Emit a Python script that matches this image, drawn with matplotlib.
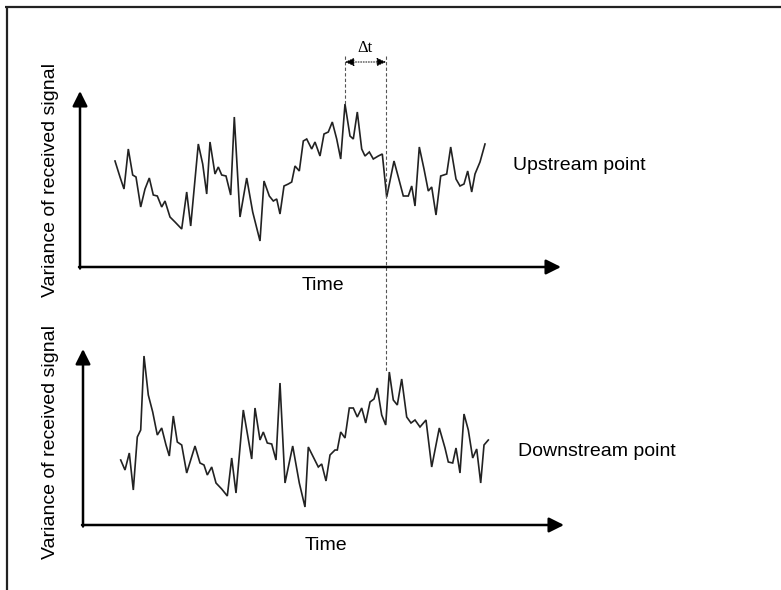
# Upstream / downstream signal variance sketch (transit time delta t)
import matplotlib.pyplot as plt
import numpy as np

# time (px from axis origin) and variance (px above baseline)
up_t = [35, 40, 44, 48.3, 52.7, 56, 60.7, 65, 69.3, 73.3, 77.3, 81.7, 85, 90, 95,
        101.7, 106.7, 110.7, 118.3, 122.7, 126.7, 130, 135, 138.3, 141.7, 146,
        150.7, 154.3, 160, 166.7, 172.7, 180, 184, 189.3, 193.3, 196.7, 200, 204,
        208.3, 211.7, 215, 219.3, 223.3, 226.7, 231.7, 235, 240, 244, 248.3, 252.3,
        256.7, 260.7, 265, 270, 273.3, 277.3, 281.7, 285, 289.3, 293.3, 298.3,
        302.3, 306.7, 314, 318.3, 323.3, 328.3, 331.7, 335, 339.3, 344, 348.3,
        351.7, 356, 360.7, 366.7, 370.7, 376, 380, 384, 387.7, 391.7, 395, 400, 405]
up_v = [106, 90, 78, 118, 92, 90, 60, 78, 89, 72, 71, 60, 66, 50, 45, 38, 75, 41,
        123, 103, 73, 125, 93, 100, 92, 91, 72, 150, 50, 89, 55, 26, 86, 71, 66,
        68, 53, 81, 83, 85, 101, 96, 126, 128, 118, 125, 111, 133, 135, 145, 128,
        108, 163, 131, 128, 155, 118, 111, 115, 108, 111, 113, 70, 106, 90, 71, 71,
        81, 61, 120, 98, 76, 80, 52, 91, 93, 120, 88, 81, 83, 96, 75, 93, 105, 123]

down_t = [37.7, 42, 46.3, 50.3, 54.3, 57.7, 61, 65.3, 69.7, 74.3, 78.7, 83, 86.3,
          90.3, 94.3, 98.7, 103.7, 112, 117, 121, 124.3, 128.7, 133, 138.7, 144.3,
          148.7, 153, 160.3, 168.7, 172, 177, 180.3, 184.3, 188.7, 193, 197, 202,
          209.7, 216.3, 222, 225.3, 230.3, 235.3, 238.7, 243, 247, 252, 254.3,
          257.7, 262, 266.3, 270.3, 274.3, 278.7, 282.7, 287, 291, 294.3, 298.7,
          302.7, 306.3, 310.3, 314.3, 318.7, 323.7, 328, 332, 337, 343, 348.7,
          356.3, 362, 365.3, 369.7, 373, 377, 381, 385.3, 389.7, 393.7, 397.7,
          401, 405.3]
down_v = [65, 55, 72, 35, 88, 95, 169, 130, 113, 90, 97, 80, 69, 109, 83, 80, 52,
          79, 62, 60, 50, 58, 42, 36, 29, 67, 32, 115, 66, 117, 85, 93, 82, 81, 65,
          142, 42, 79, 42, 18, 78, 68, 58, 61, 44, 70, 75, 75, 93, 87, 117, 117,
          108, 117, 102, 123, 126, 137, 110, 100, 153, 125, 120, 146, 108, 102, 105,
          98, 105, 58, 97, 77, 63, 62, 77, 52, 111, 95, 67, 76, 42, 80, 85]

labels = ["Upstream point", "Downstream point"]
ylabel = "Variance of received signal"
xlabel = "Time"

plt.rcParams['font.family'] = ['Liberation Sans', 'DejaVu Sans']

W, H = 781, 590
fig = plt.figure(figsize=(W / 100, H / 100), dpi=100)
ax = fig.add_axes([0, 0, 1, 1])
ax.set_xlim(0, W)
ax.set_ylim(H, 0)
ax.axis('off')

# frame (top and left edges only)
ax.plot([5, W], [7, 7], color='#222222', lw=1.6, solid_capstyle='butt')
ax.plot([6.5, 6.5], [7, H], color='#222222', lw=1.6, solid_capstyle='butt')

# panel layout
panels = [
    dict(x0=80, y0=267, top=91, right=561, lab=(513, 165), time_y=285, ylab=(51, 180),
         t=up_t, v=up_v, name=labels[0]),
    dict(x0=83, y0=525, top=349, right=564, lab=(518, 451), time_y=546, ylab=(51, 442),
         t=down_t, v=down_v, name=labels[1]),
]

arrow_kw = dict(arrowstyle='-|>,head_length=0.9,head_width=0.45', color='black',
                lw=1.8, shrinkA=0, shrinkB=0)
for p in panels:
    x0, y0 = p['x0'], p['y0']
    ax.annotate('', xy=(x0, p['top']), xytext=(x0, y0 + 1.5), arrowprops=arrow_kw)
    ax.annotate('', xy=(p['right'], y0), xytext=(x0 - 1, y0), arrowprops=arrow_kw)
    t = np.array(p['t'])
    v = np.array(p['v'])
    ax.plot(x0 + t, y0 - v, color='#222222', lw=1.2, solid_joinstyle='miter')
    ax.text(p['lab'][0], p['lab'][1], p['name'], fontsize=14, va='center', ha='left')
    ax.text(x0 + 243, p['time_y'], xlabel, fontsize=14, va='center', ha='center')
    ax.text(p['ylab'][0], p['ylab'][1], ylabel, fontsize=14, rotation=90,
            va='center', ha='center')

# delta t marker: from upstream peak to downstream peak
up_peak = int(np.argmax(up_v))
down_peak = int(np.argmax(down_v[40:])) + 40
xa = panels[0]['x0'] + up_t[up_peak]
ya = panels[0]['y0'] - up_v[up_peak]
yb = panels[1]['y0'] - down_v[down_peak]
xb = xa + 41
bracket_y = 62
ax.plot([xa, xa], [56, ya], color='#555555', lw=0.8, ls=(0, (3, 2)))
ax.plot([xb, xb], [56, yb], color='#555555', lw=0.8, ls=(0, (3, 2)))
ax.annotate('', xy=(xa, bracket_y), xytext=(xb, bracket_y),
            arrowprops=dict(arrowstyle='<|-|>,head_length=0.55,head_width=0.25',
                            color='black', lw=0.7, ls=':', shrinkA=0, shrinkB=0))
ax.text((xa + xb) / 2, 48, '\u0394t', fontsize=12, ha='center', va='center',
        family=['Liberation Serif', 'DejaVu Serif'])

fig.savefig('out.png', dpi=100)
